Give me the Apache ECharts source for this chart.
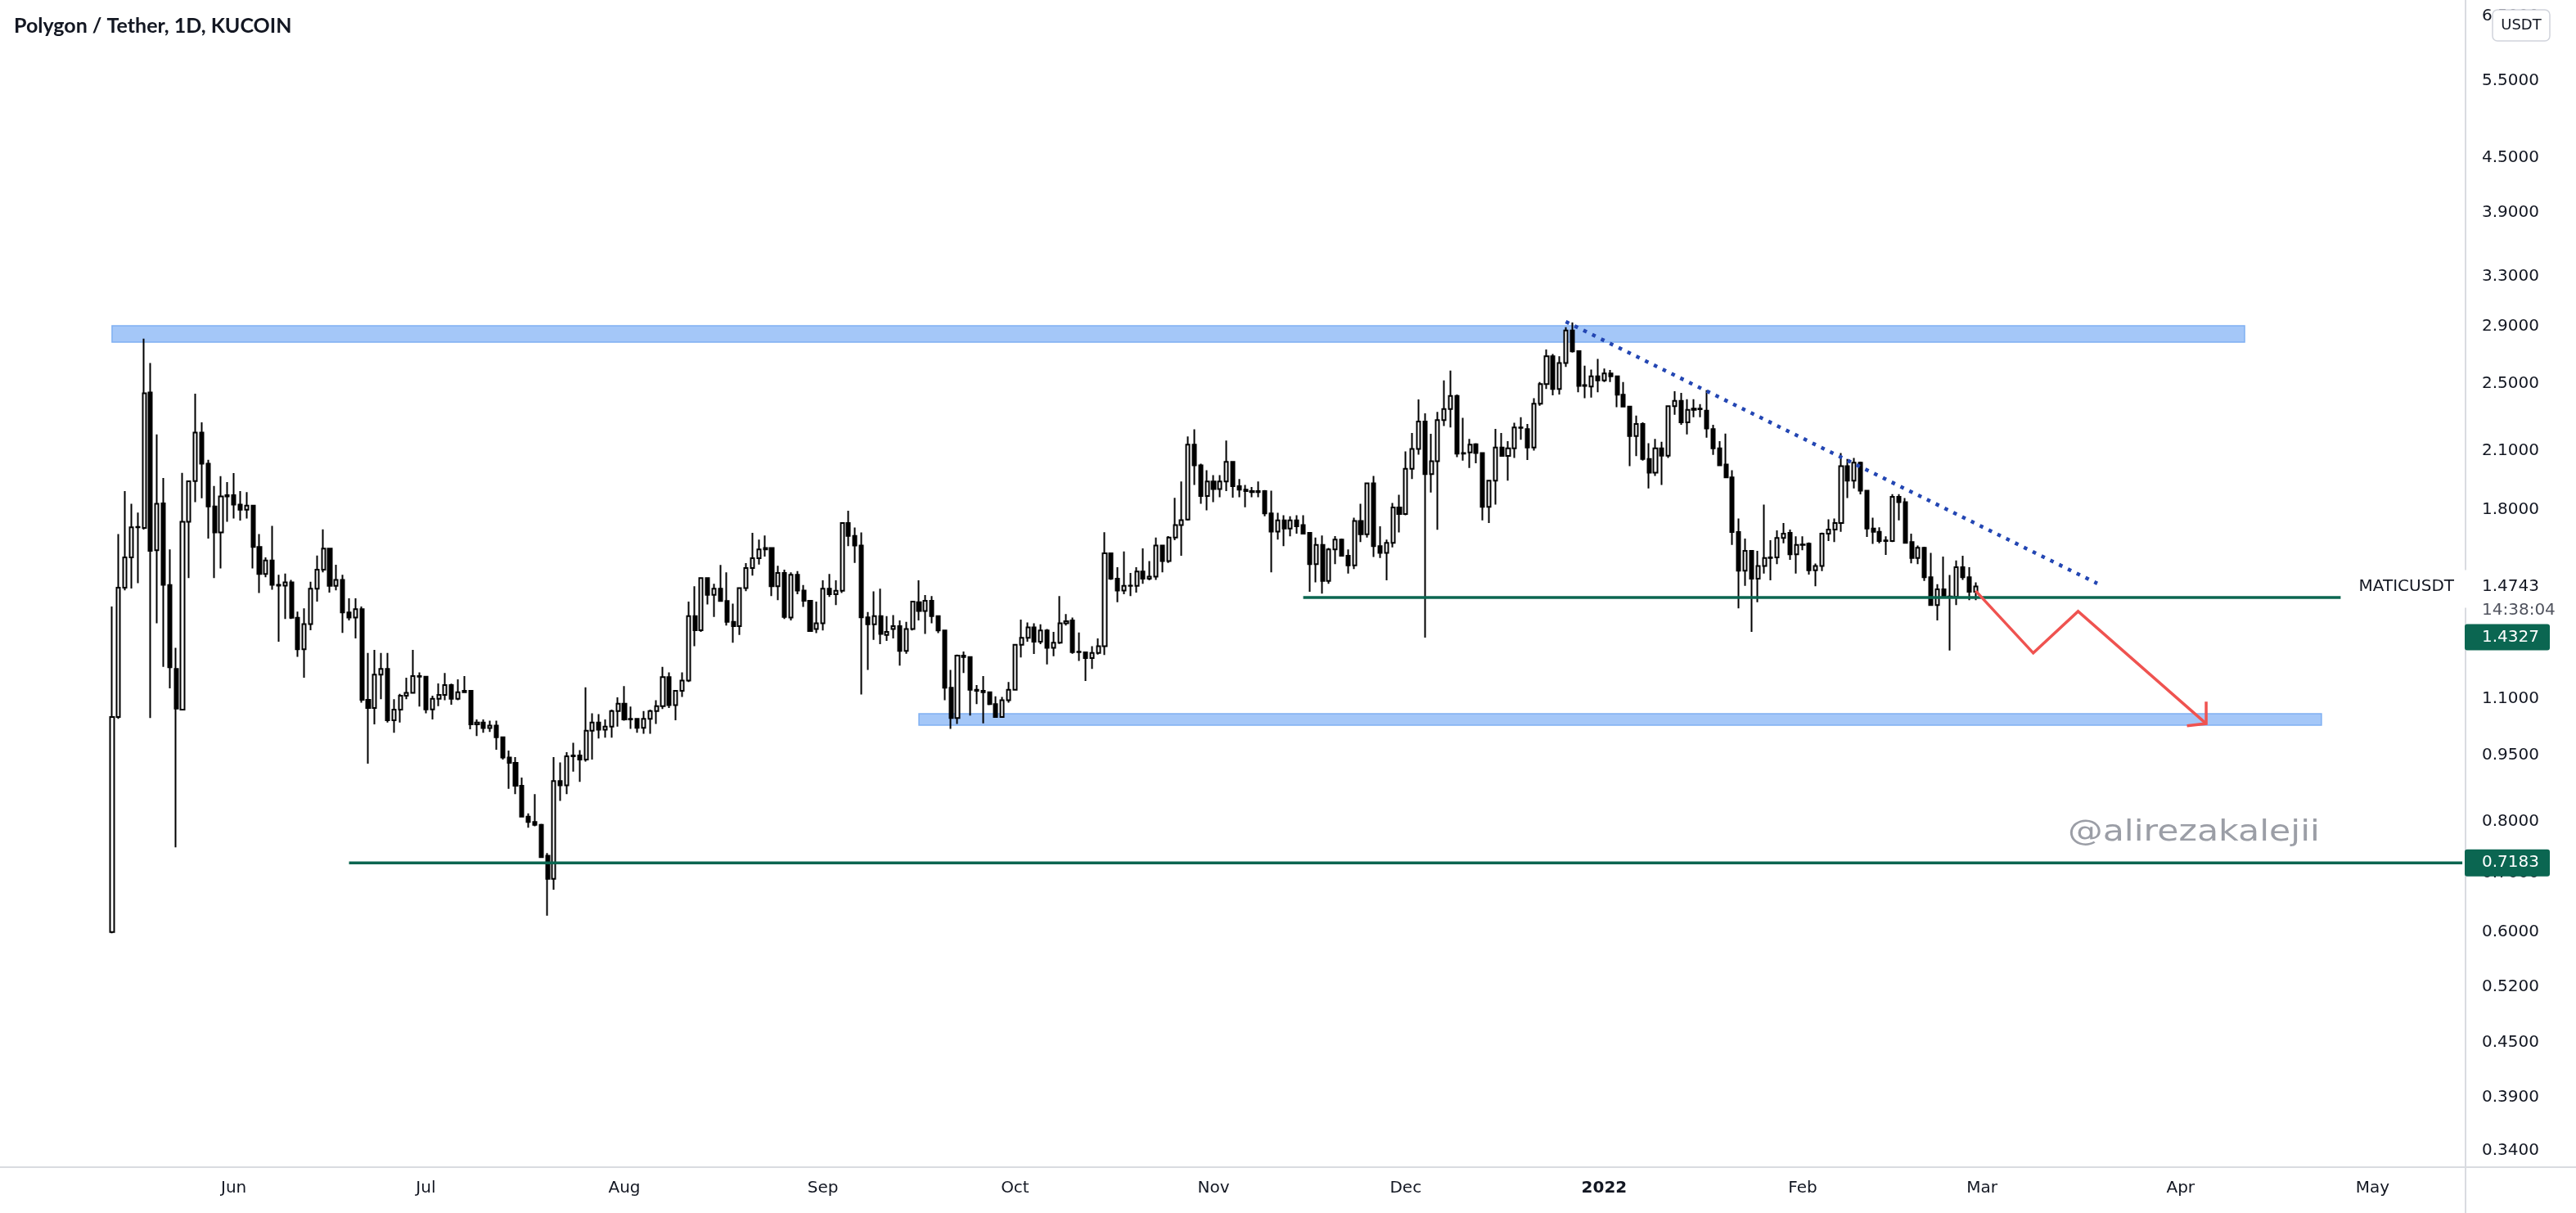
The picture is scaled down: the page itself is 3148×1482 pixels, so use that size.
<!DOCTYPE html>
<html><head><meta charset="utf-8">
<script src="https://cdn.jsdelivr.net/npm/echarts@6/dist/echarts.min.js"></script>
<style>html,body{margin:0;padding:0;background:#fff}#c{width:3148px;height:1482px}</style>
</head><body><div id="c"></div>
<script>
// ---------------- DATA ----------------
const titleText = 'Polygon / Tether, 1D, KUCOIN';
const axisStart = '2021-04-26';
const axisDays = 385;
const firstCandleDate = '2021-05-13';

const opens = [0.60,1.05,1.47,1.59,1.72,1.717,2.443,1.62,1.83,1.48,
1.19,1.07,1.745,1.94,2.20,2.03,1.816,1.697,1.864,1.87,
1.825,1.80,1.82,1.634,1.523,1.578,1.481,1.478,1.49,1.359,
1.252,1.337,1.466,1.54,1.627,1.477,1.50,1.378,1.36,1.39,
1.098,1.075,1.172,1.19,1.041,1.07,1.11,1.118,1.168,1.166,
1.071,1.101,1.112,1.141,1.101,1.12,1.124,1.03,1.035,1.02,
1.027,0.996,0.945,0.932,0.878,0.81,0.799,0.793,0.732,0.689,
0.889,0.879,0.948,0.95,0.94,1.013,1.035,1.016,1.024,1.066,
1.087,1.043,1.045,1.021,1.045,1.066,1.08,1.165,1.083,1.124,
1.154,1.365,1.316,1.507,1.443,1.466,1.42,1.345,1.33,1.468,
1.547,1.587,1.624,1.63,1.475,1.527,1.36,1.52,1.459,1.421,
1.32,1.34,1.466,1.445,1.458,1.739,1.682,1.64,1.361,1.336,
1.365,1.30,1.32,1.33,1.247,1.32,1.415,1.383,1.421,1.365,
1.315,1.133,1.047,1.232,1.227,1.127,1.124,1.12,1.086,1.05,
1.097,1.127,1.267,1.29,1.326,1.277,1.315,1.257,1.274,1.34,
1.35,1.243,1.242,1.224,1.24,1.262,1.607,1.505,1.459,1.477,
1.477,1.533,1.505,1.513,1.64,1.575,1.675,1.73,1.755,2.133,
2.021,1.866,1.938,1.90,1.938,2.039,1.914,1.897,1.89,1.885,
1.89,1.783,1.701,1.751,1.714,1.751,1.73,1.695,1.563,1.643,
1.496,1.624,1.666,1.597,1.558,1.748,1.689,1.928,1.638,1.609,
1.652,1.811,1.78,2.003,2.109,2.265,1.975,2.043,2.273,2.339,
2.42,2.083,2.09,2.135,2.087,1.814,1.942,2.117,2.071,2.112,
2.23,2.22,2.117,2.372,2.497,2.684,2.465,2.637,2.87,2.72,
2.484,2.48,2.547,2.52,2.567,2.547,2.428,2.354,2.181,2.25,
2.054,1.983,2.112,2.072,2.357,2.39,2.26,2.335,2.342,2.33,
2.22,2.112,2.025,1.958,1.699,1.536,1.618,1.505,1.555,1.588,
1.59,1.673,1.695,1.603,1.643,1.648,1.538,1.555,1.692,1.71,
1.739,2.017,1.942,2.035,1.892,1.714,1.70,1.66,1.66,1.862,
1.836,1.655,1.588,1.631,1.51,1.405,1.464,1.436,1.435,1.55,
1.51,1.454];

const closes = [1.05,1.47,1.59,1.72,1.722,2.438,1.618,1.828,1.481,1.195,
1.073,1.745,1.939,2.20,2.03,1.816,1.697,1.864,1.87,1.825,
1.80,1.82,1.634,1.523,1.578,1.481,1.478,1.49,1.359,1.252,
1.337,1.466,1.54,1.627,1.477,1.50,1.378,1.36,1.39,1.098,
1.075,1.172,1.19,1.041,1.07,1.11,1.118,1.168,1.166,1.071,
1.101,1.112,1.141,1.101,1.12,1.124,1.03,1.035,1.02,1.027,
0.996,0.945,0.932,0.878,0.81,0.799,0.793,0.729,0.689,0.889,
0.879,0.948,0.95,0.94,1.013,1.035,1.016,1.024,1.066,1.087,
1.043,1.045,1.021,1.045,1.066,1.08,1.165,1.083,1.124,1.154,
1.365,1.316,1.507,1.443,1.466,1.42,1.345,1.33,1.468,1.547,
1.587,1.624,1.63,1.475,1.527,1.362,1.52,1.459,1.421,1.313,
1.34,1.466,1.445,1.458,1.739,1.682,1.64,1.361,1.336,1.365,
1.303,1.31,1.33,1.247,1.32,1.418,1.383,1.421,1.365,1.315,
1.133,1.047,1.232,1.227,1.127,1.124,1.12,1.086,1.05,1.097,
1.127,1.267,1.29,1.326,1.277,1.315,1.257,1.274,1.34,1.347,
1.243,1.244,1.224,1.24,1.262,1.607,1.505,1.459,1.477,1.478,
1.533,1.505,1.513,1.64,1.575,1.675,1.73,1.752,2.133,2.021,
1.866,1.938,1.90,1.938,2.039,1.914,1.897,1.89,1.885,1.89,
1.783,1.701,1.751,1.714,1.751,1.724,1.692,1.563,1.643,1.496,
1.624,1.666,1.597,1.558,1.748,1.689,1.928,1.638,1.609,1.652,
1.811,1.78,2.003,2.109,2.265,1.975,2.043,2.273,2.339,2.42,
2.083,2.086,2.133,2.087,1.814,1.942,2.117,2.071,2.112,2.23,
2.228,2.117,2.372,2.497,2.684,2.465,2.637,2.87,2.718,2.484,
2.49,2.547,2.52,2.567,2.547,2.428,2.354,2.181,2.25,2.054,
1.983,2.112,2.072,2.357,2.39,2.26,2.335,2.342,2.338,2.224,
2.112,2.021,1.958,1.699,1.536,1.618,1.505,1.555,1.588,1.59,
1.673,1.692,1.603,1.643,1.645,1.538,1.555,1.692,1.71,1.739,
2.017,1.942,2.035,1.892,1.714,1.70,1.66,1.662,1.862,1.836,
1.652,1.588,1.631,1.51,1.405,1.464,1.436,1.437,1.55,1.51,
1.454,1.4743];

const lows = [0.598,1.045,1.46,1.467,1.487,1.71,1.047,1.34,1.196,1.131,
0.748,1.07,1.507,1.836,1.855,1.67,1.507,1.545,1.745,1.76,
1.75,1.76,1.545,1.45,1.51,1.462,1.277,1.355,1.355,1.228,
1.163,1.316,1.418,1.53,1.451,1.46,1.307,1.35,1.288,1.09,
0.93,1.03,1.10,1.035,1.008,1.035,1.10,1.116,1.079,1.06,
1.043,1.08,1.097,1.084,1.097,1.118,1.017,0.999,1.008,1.01,
0.964,0.94,0.871,0.859,0.81,0.787,0.79,0.728,0.626,0.67,
0.844,0.859,0.911,0.887,0.935,0.94,0.993,0.995,0.995,1.024,
1.04,1.018,1.008,1.005,1.005,1.031,1.072,1.075,1.041,1.106,
1.15,1.262,1.31,1.407,1.362,1.42,1.332,1.274,1.30,1.457,
1.517,1.561,1.594,1.438,1.423,1.355,1.35,1.445,1.398,1.31,
1.306,1.315,1.435,1.405,1.45,1.638,1.568,1.113,1.187,1.283,
1.269,1.28,1.288,1.20,1.238,1.315,1.35,1.303,1.34,1.306,
1.097,1.018,1.031,1.177,1.054,1.086,1.033,1.083,1.049,1.05,
1.09,1.125,1.226,1.277,1.237,1.269,1.204,1.23,1.27,1.332,
1.238,1.215,1.153,1.19,1.235,1.234,1.50,1.415,1.445,1.438,
1.451,1.485,1.498,1.50,1.53,1.568,1.663,1.597,1.75,1.92,
1.828,1.798,1.836,1.86,1.89,1.858,1.86,1.812,1.86,1.86,
1.77,1.53,1.666,1.638,1.68,1.692,1.688,1.454,1.49,1.447,
1.485,1.563,1.595,1.525,1.543,1.655,1.675,1.592,1.588,1.498,
1.632,1.697,1.775,1.95,2.078,1.291,1.883,1.709,2.238,2.23,
2.064,2.046,2.007,2.032,1.751,1.739,1.825,2.07,1.942,2.06,
2.16,2.049,2.10,2.36,2.465,2.424,2.43,2.61,2.71,2.444,
2.407,2.41,2.444,2.51,2.51,2.351,2.35,2.017,2.07,2.046,
1.903,1.966,1.92,2.06,2.305,2.245,2.19,2.29,2.29,2.172,
2.076,2.02,1.956,1.643,1.393,1.477,1.31,1.415,1.525,1.498,
1.563,1.65,1.58,1.525,1.62,1.521,1.475,1.535,1.66,1.655,
1.70,1.856,1.903,1.874,1.677,1.647,1.65,1.601,1.655,1.751,
1.65,1.566,1.563,1.496,1.403,1.35,1.434,1.248,1.405,1.50,
1.423,1.423];

const highs = [1.40,1.69,1.89,1.828,1.787,2.81,2.637,2.19,1.955,1.624,
1.257,1.982,1.94,2.435,2.26,2.05,1.915,1.965,1.935,1.98,
1.89,1.885,1.82,1.69,1.59,1.726,1.52,1.525,1.50,1.381,
1.393,1.493,1.598,1.711,1.63,1.56,1.52,1.43,1.43,1.40,
1.24,1.25,1.24,1.24,1.10,1.115,1.163,1.25,1.179,1.168,
1.11,1.146,1.177,1.145,1.158,1.168,1.126,1.043,1.043,1.04,
1.04,0.996,0.962,0.946,0.897,0.817,0.859,0.795,0.737,0.946,
0.933,0.958,0.982,0.963,1.134,1.06,1.058,1.043,1.07,1.105,
1.138,1.079,1.047,1.066,1.07,1.097,1.196,1.179,1.126,1.179,
1.418,1.475,1.51,1.51,1.485,1.559,1.53,1.41,1.47,1.567,
1.695,1.666,1.684,1.632,1.556,1.54,1.53,1.535,1.48,1.423,
1.418,1.498,1.523,1.498,1.742,1.796,1.719,1.697,1.38,1.456,
1.466,1.365,1.369,1.35,1.345,1.42,1.498,1.442,1.438,1.366,
1.316,1.187,1.235,1.245,1.23,1.141,1.168,1.122,1.108,1.106,
1.15,1.27,1.353,1.343,1.34,1.336,1.32,1.31,1.438,1.372,
1.36,1.308,1.243,1.262,1.288,1.698,1.61,1.55,1.615,1.527,
1.55,1.628,1.575,1.675,1.643,1.681,1.857,1.938,2.178,2.219,
2.03,1.995,1.97,1.97,2.155,2.04,1.95,1.92,1.91,1.938,
1.895,1.892,1.786,1.775,1.77,1.775,1.775,1.695,1.675,1.684,
1.63,1.681,1.67,1.624,1.763,1.828,1.933,1.966,1.724,1.666,
1.832,1.872,2.095,2.198,2.399,2.314,2.193,2.322,2.52,2.586,
2.43,2.287,2.164,2.14,2.09,1.945,2.222,2.198,2.152,2.257,
2.29,2.25,2.407,2.51,2.732,2.70,2.684,2.894,2.93,2.72,
2.619,2.592,2.665,2.60,2.59,2.55,2.51,2.355,2.30,2.26,
2.14,2.164,2.148,2.36,2.45,2.44,2.40,2.40,2.37,2.457,
2.245,2.152,2.195,1.995,1.76,1.67,1.62,1.618,1.825,1.663,
1.706,1.739,1.71,1.68,1.68,1.653,1.565,1.696,1.756,1.76,
2.087,2.054,2.06,2.04,1.895,1.763,1.72,1.68,1.875,1.875,
1.856,1.692,1.64,1.635,1.609,1.483,1.594,1.519,1.578,1.597,
1.55,1.49];

const priceTicks = [0.34,0.39,0.45,0.52,0.6,0.7,0.8,0.95,1.1,1.5,1.8,2.1,2.5,2.9,3.3,3.9,4.5,5.5,6.5];
const monthNames = ['Jan','Feb','Mar','Apr','May','Jun','Jul','Aug','Sep','Oct','Nov','Dec'];

const upperZone = {from:'2021-05-13', to:'2022-04-11', low:2.785, high:2.906};
const lowerZone = {from:'2021-09-16', to:'2022-04-23', low:1.028, high:1.059};
const trendLine = [['2021-12-26',2.937],['2022-03-19',1.486]];
const projection = [['2022-02-28',1.458],['2022-03-09',1.24],['2022-03-16',1.382],['2022-04-05',1.032]];
const arrowHead = [['2022-04-02',1.026],['2022-04-05',1.032],['2022-04-05',1.093]];
const supportLine = {from:'2021-11-15', to:'2022-04-26', value:1.4327};
const lowLine = {from:'2021-06-19', to:'2022-05-15', value:0.7183};
const symbolName = 'MATICUSDT';
const lastPrice = 1.4743;
const linePrice = 1.4327;
const countdown = '14:38:04';
const currency = 'USDT';
const watermark = '@alirezakalejii';

// ---------------- BUILD ----------------
function addDays(s, n) {
  const d = new Date(s + 'T00:00:00Z');
  d.setUTCDate(d.getUTCDate() + n);
  return d.toISOString().slice(0, 10);
}
const categories = Array.from({length: axisDays}, (_, i) => addDays(axisStart, i));
const candleData = opens.map((o, i) => [addDays(firstCandleDate, i), o, closes[i], lows[i], highs[i]]);

const FONT = '"DejaVu Sans", sans-serif';
const W = 3148, H = 1482, GRID_RIGHT = 135, GRID_BOTTOM = 56;
const axisX = W - GRID_RIGHT;
const axisY = H - GRID_BOTTOM;

const chart = echarts.init(document.getElementById('c'), null, {renderer: 'canvas'});
chart.setOption({
  animation: false,
  backgroundColor: '#ffffff',
  grid: {left: -3, right: GRID_RIGHT, top: 0, bottom: GRID_BOTTOM},
  xAxis: {
    type: 'category',
    data: categories,
    boundaryGap: true,
    axisLine: {show: true, lineStyle: {color: '#d9dbe0', width: 2}},
    axisTick: {show: false},
    splitLine: {show: false},
    axisLabel: {
      interval: (idx, val) => val.slice(8) === '01' && val >= firstCandleDate,
      margin: 16,
      color: '#131722',
      fontFamily: FONT,
      fontSize: 20,
      formatter: (val) => {
        const m = parseInt(val.slice(5, 7), 10) - 1;
        return m === 0 ? '{b|' + val.slice(0, 4) + '}' : monthNames[m];
      },
      rich: {b: {fontWeight: 'bold', fontFamily: FONT, fontSize: 20, color: '#131722'}}
    }
  },
  yAxis: {
    type: 'log',
    logBase: 10,
    position: 'right',
    min: 0.32548,
    max: 6.781,
    axisLine: {show: true, lineStyle: {color: '#d9dbe0', width: 2}},
    axisTick: {show: false},
    splitLine: {show: false},
    axisLabel: {
      customValues: priceTicks,
      margin: 20,
      color: '#131722',
      fontFamily: FONT,
      fontSize: 20,
      formatter: (v) => Number(v).toFixed(4)
    }
  },
  series: [
    {
      type: 'candlestick',
      name: symbolName,
      dimensions: ['date', 'open', 'close', 'lowest', 'highest'],
      encode: {x: 'date', y: ['open', 'close', 'lowest', 'highest']},
      data: candleData,
      barWidth: 4.6,
      large: false,
      z: 3,
      itemStyle: {
        color: '#ffffff', color0: '#000000',
        borderColor: '#000000', borderColor0: '#000000', borderColorDoji: '#000000',
        borderWidth: 2
      },
      markArea: {
        silent: true,
        z: 1,
        itemStyle: {color: '#a4c7f8', borderColor: '#7fb0f2', borderWidth: 1.5},
        data: [
          [{xAxis: upperZone.from, yAxis: upperZone.low}, {xAxis: upperZone.to, yAxis: upperZone.high}],
          [{xAxis: lowerZone.from, yAxis: lowerZone.low}, {xAxis: lowerZone.to, yAxis: lowerZone.high}]
        ]
      }
    },
    {
      type: 'line', name: 'trend', data: trendLine, symbol: 'none', silent: true, z: 5,
      lineStyle: {color: '#2346b3', width: 4.5, type: [4.5, 7.5], cap: 'butt'}
    },
    {
      type: 'line', name: 'support', symbol: 'none', silent: true, z: 4,
      data: [[supportLine.from, supportLine.value], [supportLine.to, supportLine.value]],
      lineStyle: {color: '#0b6651', width: 3.5}
    },
    {
      type: 'line', name: 'low', symbol: 'none', silent: true, z: 4,
      data: [[lowLine.from, lowLine.value], [lowLine.to, lowLine.value]],
      lineStyle: {color: '#0b6651', width: 3.5}
    },
    {
      type: 'line', name: 'projection', data: projection, symbol: 'none', silent: true, z: 6,
      lineStyle: {color: '#ef5350', width: 3.5, join: 'miter'}
    },
    {
      type: 'line', name: 'arrow', data: arrowHead, symbol: 'none', silent: true, z: 6,
      lineStyle: {color: '#ef5350', width: 3.5, join: 'miter'}
    }
  ]
});

// ---------------- LABELS (positioned through the axis scale) ----------------
const yp = v => chart.convertToPixel({yAxisIndex: 0}, v);
const yLast = yp(lastPrice);
const yLow = yp(lowLine.value);
const labelX = axisX + 20;
const txt = (x, y, text, extra) => ({
  type: 'text', x: x, y: y, z: 100,
  style: Object.assign({text: text, fill: '#131722', font: '20px ' + FONT, verticalAlign: 'middle', align: 'left'}, extra || {})
});

chart.setOption({
  graphic: [
    txt(17, 32, titleText, {font: 'bold 25px Lato, sans-serif'}),
    {type: 'text', x: 2527, y: 1018, z: 50, scaleX: 1.22,
      style: {text: watermark, fill: '#9b9ea6', font: '35px ' + FONT, verticalAlign: 'middle', align: 'left'}},
    {type: 'line', z: 90, shape: {x1: axisX, y1: axisY, x2: W, y2: axisY}, style: {stroke: '#d9dbe0', lineWidth: 2}},
    {type: 'line', z: 90, shape: {x1: axisX, y1: axisY, x2: axisX, y2: H}, style: {stroke: '#d9dbe0', lineWidth: 2}},
    {type: 'rect', z: 95, shape: {x: axisX - 8, y: yLast - 20, width: W - axisX + 8, height: 46}, style: {fill: '#ffffff'}},
    txt(2999, yLast, symbolName, {align: 'right'}),
    txt(labelX, yLast, lastPrice.toFixed(4)),
    txt(labelX, yLast + 29, countdown, {fill: '#50535e'}),
    {type: 'rect', z: 98, shape: {x: axisX - 1, y: yLast + 46, width: 104, height: 32, r: 3}, style: {fill: '#0b6651'}},
    txt(labelX, yLast + 62, linePrice.toFixed(4), {fill: '#ffffff'}),
    {type: 'rect', z: 98, shape: {x: axisX - 1, y: yLow - 16.5, width: 104, height: 33, r: 3}, style: {fill: '#0b6651'}},
    txt(labelX, yLow, lowLine.value.toFixed(4), {fill: '#ffffff'}),
    {type: 'rect', z: 98, shape: {x: 3046, y: 12, width: 70, height: 38, r: 6}, style: {fill: '#ffffff', stroke: '#d1d4dc', lineWidth: 1.5}},
    txt(3081, 31, currency, {align: 'center', font: '18px ' + FONT})
  ]
});
</script>
</body></html>
